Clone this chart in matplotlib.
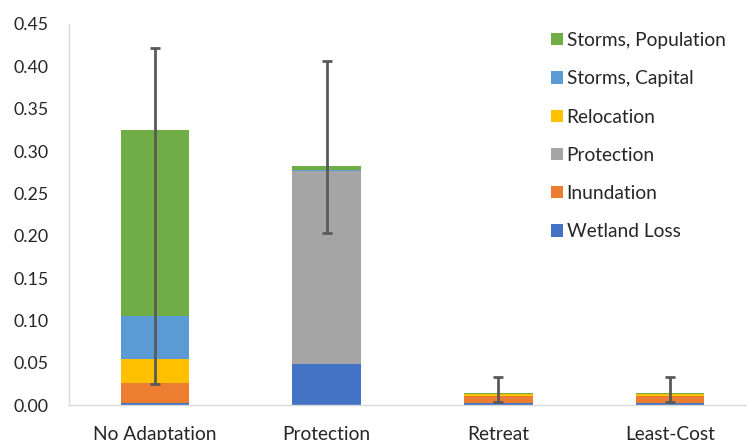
import matplotlib
matplotlib.use("Agg")
import matplotlib.pyplot as plt
import numpy as np

plt.rcParams['font.family'] = ['Lato', 'DejaVu Sans']

categories = ["No Adaptation", "Protection", "Retreat", "Least-Cost"]

# Cost components, stacked bottom to top
wetland_loss = [0.003, 0.049, 0.0031, 0.0031]
inundation = [0.0235, 0.0, 0.0082, 0.0082]
protection = [0.0, 0.228, 0.0, 0.0]
relocation = [0.028, 0.0, 0.0020, 0.0020]
storms_capital = [0.051, 0.0012, 0.0005, 0.0005]
storms_population = [0.219, 0.0048, 0.0004, 0.0004]

# Uncertainty range of the total
range_low = [0.025, 0.203, 0.0039, 0.0039]
range_high = [0.422, 0.406, 0.033, 0.033]

y_ticks = [0.00, 0.05, 0.10, 0.15, 0.20, 0.25, 0.30, 0.35, 0.40, 0.45]

series = [
    ("Wetland Loss", wetland_loss, "#4472C4"),
    ("Inundation", inundation, "#ED7D31"),
    ("Protection", protection, "#A5A5A5"),
    ("Relocation", relocation, "#FFC000"),
    ("Storms, Capital", storms_capital, "#5B9BD5"),
    ("Storms, Population", storms_population, "#70AD47"),
]

W, H, DPI = 747, 440, 100
fig = plt.figure(figsize=(W / DPI, H / DPI), dpi=DPI)
ax = fig.add_axes([69 / W, (H - 405.3) / H, (756 - 69) / W, 381.3 / H])

x = np.arange(len(categories))
bottom = np.zeros(len(categories))
handles = []
for name, vals, color in series:
    vals = np.array(vals)
    b = ax.bar(x, vals, width=0.4, bottom=bottom, color=color, label=name,
               edgecolor="none", zorder=2)
    handles.append(b)
    bottom = bottom + vals

totals = bottom
yerr = np.array([totals - np.array(range_low), np.array(range_high) - totals])
ax.errorbar(x, totals, yerr=yerr, fmt="none", ecolor="#595959",
            elinewidth=2.0, capsize=3.6, capthick=2.0, zorder=3)

ax.set_xlim(-0.5, len(categories) - 0.5)
ax.set_ylim(0, 0.45)
ax.set_yticks(y_ticks)
ax.set_yticklabels([f"{t:.2f}" for t in y_ticks])
ax.set_xticks(x)
ax.set_xticklabels(categories)

for s in ["top", "right"]:
    ax.spines[s].set_visible(False)
for s in ["left", "bottom"]:
    ax.spines[s].set_color("#D9D9D9")
    ax.spines[s].set_linewidth(1.0)
ax.tick_params(axis="both", length=0, colors="#262626")
ax.tick_params(axis="y", pad=14.9, labelsize=12.8)
ax.tick_params(axis="x", pad=15.2, labelsize=13.8)

leg = ax.legend(handles[::-1], [s[0] for s in series][::-1],
                loc="upper left", bbox_to_anchor=(551 / W, 1 - 32 / H),
                bbox_transform=fig.transFigure, frameon=False,
                fontsize=13.8, handlelength=0.61, handleheight=0.61,
                handletextpad=0.21, labelspacing=1.11, borderpad=0,
                borderaxespad=0)
for t in leg.get_texts():
    t.set_color("#262626")

fig.savefig("out.png", dpi=DPI)
